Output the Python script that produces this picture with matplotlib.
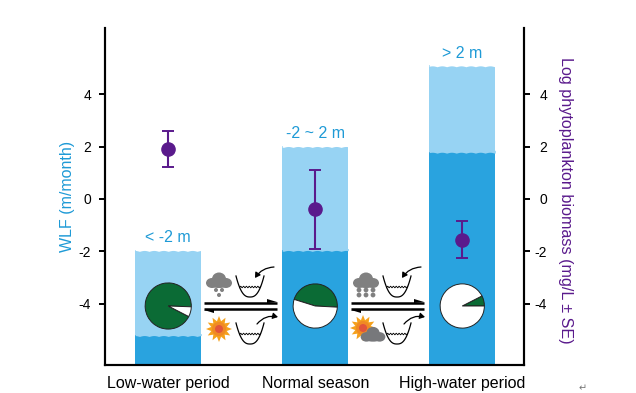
import numpy as np
import matplotlib
matplotlib.use("Agg")
import matplotlib.pyplot as plt
from matplotlib.patches import Circle, Polygon, Ellipse, FancyArrowPatch

plt.rcParams['font.family'] = ['Liberation Sans', 'DejaVu Sans']
plt.rcParams['axes.unicode_minus'] = False

# data
periods = ["Low-water period", "Normal season", "High-water period"]
range_labels = ["< -2 m", "-2 ~ 2 m", "> 2 m"]
wlf_high = [-1.95, 2.02, 5.1]
wlf_low = [-5.2, -1.95, 1.8]
biomass = [1.9, -0.38, -1.57]
biomass_upper = [2.6, 1.1, -0.84]
biomass_lower = [1.22, -1.9, -2.25]
green_share = [93, 46, 7.5]
green_start = [-2, -3, 0]
yticks = [-4, -2, 0, 2, 4]

BLUE_TXT = "#1E9AD6"
DARK = "#29A3DF"
LIGHT = "#97D3F3"
PURPLE = "#5A1A8C"
GREEN = "#0B6B35"
GREY = "#808080"
W, H = 636, 393

fig = plt.figure(figsize=(W / 100, H / 100), dpi=100)
ax = fig.add_axes([105 / W, 1 - 365 / H, (524 - 105) / W, (365 - 28) / H])
x = np.arange(3)
bottom = -6.34
ax.set_xlim(-0.43, 2.42)
ax.set_ylim(bottom, 6.53)

bar_w = 0.45
ax.bar(x, np.array(wlf_high) - bottom, bar_w, bottom=bottom, color=LIGHT, lw=0)
ax.bar(x, np.array(wlf_low) - bottom, bar_w, bottom=bottom, color=DARK, lw=0)

# little waves along the water surfaces
for i in range(3):
    xs = np.linspace(x[i] - bar_w / 2, x[i] + bar_w / 2, 120)
    wave = 0.035 * np.abs(np.sin(xs * 147 / 8 * np.pi / 1.0 / 1.2))
    ax.fill_between(xs, wlf_high[i] - 0.05 + wave, wlf_high[i] + 0.12, color="white", lw=0, zorder=2)
    ax.fill_between(xs, wlf_low[i] - 0.05 + wave, wlf_low[i] + 0.06, color=LIGHT, lw=0, zorder=2)
    ax.text(x[i], wlf_high[i] + 0.47, range_labels[i], color=BLUE_TXT, fontsize=11.5,
            ha="center", va="center")

yerr = [np.array(biomass) - np.array(biomass_lower), np.array(biomass_upper) - np.array(biomass)]
ax.errorbar(x, biomass, yerr=yerr, fmt="o", color=PURPLE, ms=9.5, elinewidth=1.5,
            capsize=4.5, capthick=1.4, zorder=4)

ax.spines["top"].set_visible(False)
for s in ["left", "right", "bottom"]:
    ax.spines[s].set_linewidth(1.5)
ax.set_xticks(x)
ax.set_xticklabels(periods, fontsize=11.5)
ax.tick_params(axis="x", length=0, pad=8)
ax.set_yticks(yticks)
ax.tick_params(axis="y", width=1.4, length=4, labelsize=10, pad=6)
ax.set_ylabel("WLF (m/month)", color=BLUE_TXT, fontsize=11.5, labelpad=2.5)

ax2 = ax.twinx()
ax2.set_ylim(ax.get_ylim())
ax2.set_yticks(yticks)
ax2.tick_params(axis="y", width=1.4, length=4, labelsize=10, pad=12.5)
for lab in ax2.get_yticklabels():
    lab.set_ha("right")
ax2.spines["top"].set_visible(False)
for s in ["left", "right", "bottom"]:
    ax2.spines[s].set_linewidth(1.5)
ax2.set_ylabel("Log phytoplankton biomass (mg/L ± SE)", color=PURPLE, fontsize=11.6,
               rotation=270, labelpad=18.5, y=0.49)

# pies, one small axes per period
pie_r = [23, 22, 22]
for i in range(3):
    cx = ax.transData.transform((x[i], 0))[0]
    r = pie_r[i]
    pax = fig.add_axes([(cx - r - 1) / W, 1 - (306 + r + 1) / H, (2 * r + 2) / W, (2 * r + 2) / H])
    pax.pie([green_share[i], 100 - green_share[i]], colors=[GREEN, "white"], startangle=green_start[i],
            radius=1, wedgeprops=dict(edgecolor="#222222", linewidth=0.7))
    pax.set_xlim(-1.04, 1.04)
    pax.set_ylim(-1.04, 1.04)

# overlay in pixel units for the small pictograms
ov = fig.add_axes([0, 0, 1, 1], facecolor="none")
ov.set_xlim(0, W)
ov.set_ylim(H, 0)
ov.axis("off")


def pond(px, py):
    t = np.linspace(-1, 1, 60)
    ov.plot(px + 14 * t, py + 21 * (1 - np.abs(t) ** 2.6), color="k", lw=0.9)
    t = np.linspace(-10.5, 10.5, 60)
    ov.plot(px + t, py + 11 + 0.8 * np.sin(t * 2.2), color="k", lw=0.6)


def cloud(cx, cy, s=1.0, col=GREY):
    for dx, dy, rx, ry in [(-7, 2, 6, 5), (0, -2, 7, 6.5), (7, 2, 6, 5), (0, 3, 10, 4)]:
        ov.add_patch(Ellipse((cx + dx * s, cy + dy * s), 2 * rx * s, 2 * ry * s, color=col, lw=0, zorder=5))


def sun(cx, cy):
    ang = np.linspace(0, 2 * np.pi, 25)[:-1]
    rad = np.where(np.arange(24) % 2 == 0, 13, 8)
    ov.add_patch(Polygon(np.c_[cx + rad * np.cos(ang), cy + rad * np.sin(ang)], color="#F5A11C", lw=0))
    ov.add_patch(Circle((cx, cy), 7, color="#F08A24", lw=0))
    ov.add_patch(Circle((cx, cy), 4, color="#E2553A", lw=0))


def half_arrows(x0, x1):
    ov.plot([x0, x1], [303, 303], color="k", lw=1.8, solid_capstyle="butt")
    ov.add_patch(Polygon([[x1 - 10, 299], [x1, 302], [x1 - 10, 303]], color="k", lw=0))
    ov.plot([x0, x1], [309, 309], color="k", lw=1.8, solid_capstyle="butt")
    ov.add_patch(Polygon([[x0 + 10, 313], [x0, 310], [x0 + 10, 309]], color="k", lw=0))


for off in [0, 147]:
    half_arrows(204 + off, 277 + off)
    pond(250 + off, 276)
    pond(250 + off, 323)
    ov.add_patch(FancyArrowPatch((274 + off, 267), (255 + off, 278), connectionstyle="arc3,rad=0.25",
                                 arrowstyle="-|>,head_length=3,head_width=1.8", color="k", lw=0.9,
                                 shrinkA=0, shrinkB=0))
    ov.add_patch(FancyArrowPatch((257 + off, 324), (278 + off, 317), connectionstyle="arc3,rad=-0.3",
                                 arrowstyle="-|>,head_length=3,head_width=1.8", color="k", lw=0.9,
                                 shrinkA=0, shrinkB=0))

# left pair: light rain and sun
cloud(219, 281)
for dx, dy in [(-3, 9), (3, 9), (0, 14)]:
    ov.add_patch(Circle((219 + dx, 281 + dy), 2, color=GREY, lw=0))
sun(219, 329)

# right pair: heavy rain and sun behind a cloud
cloud(366, 281)
for dx, dy in [(-7, 9), (0, 9), (7, 9), (-7, 14), (0, 14), (7, 14)]:
    ov.add_patch(Circle((366 + dx, 281 + dy), 2.4, color=GREY, lw=0))
sun(363, 328)
cloud(373, 335, 0.95, "#77787B")

ov.text(583, 388, "\u21b5", color="#777777", fontsize=7, ha="center", va="center", family="DejaVu Sans")

fig.savefig("out.png", dpi=100)
